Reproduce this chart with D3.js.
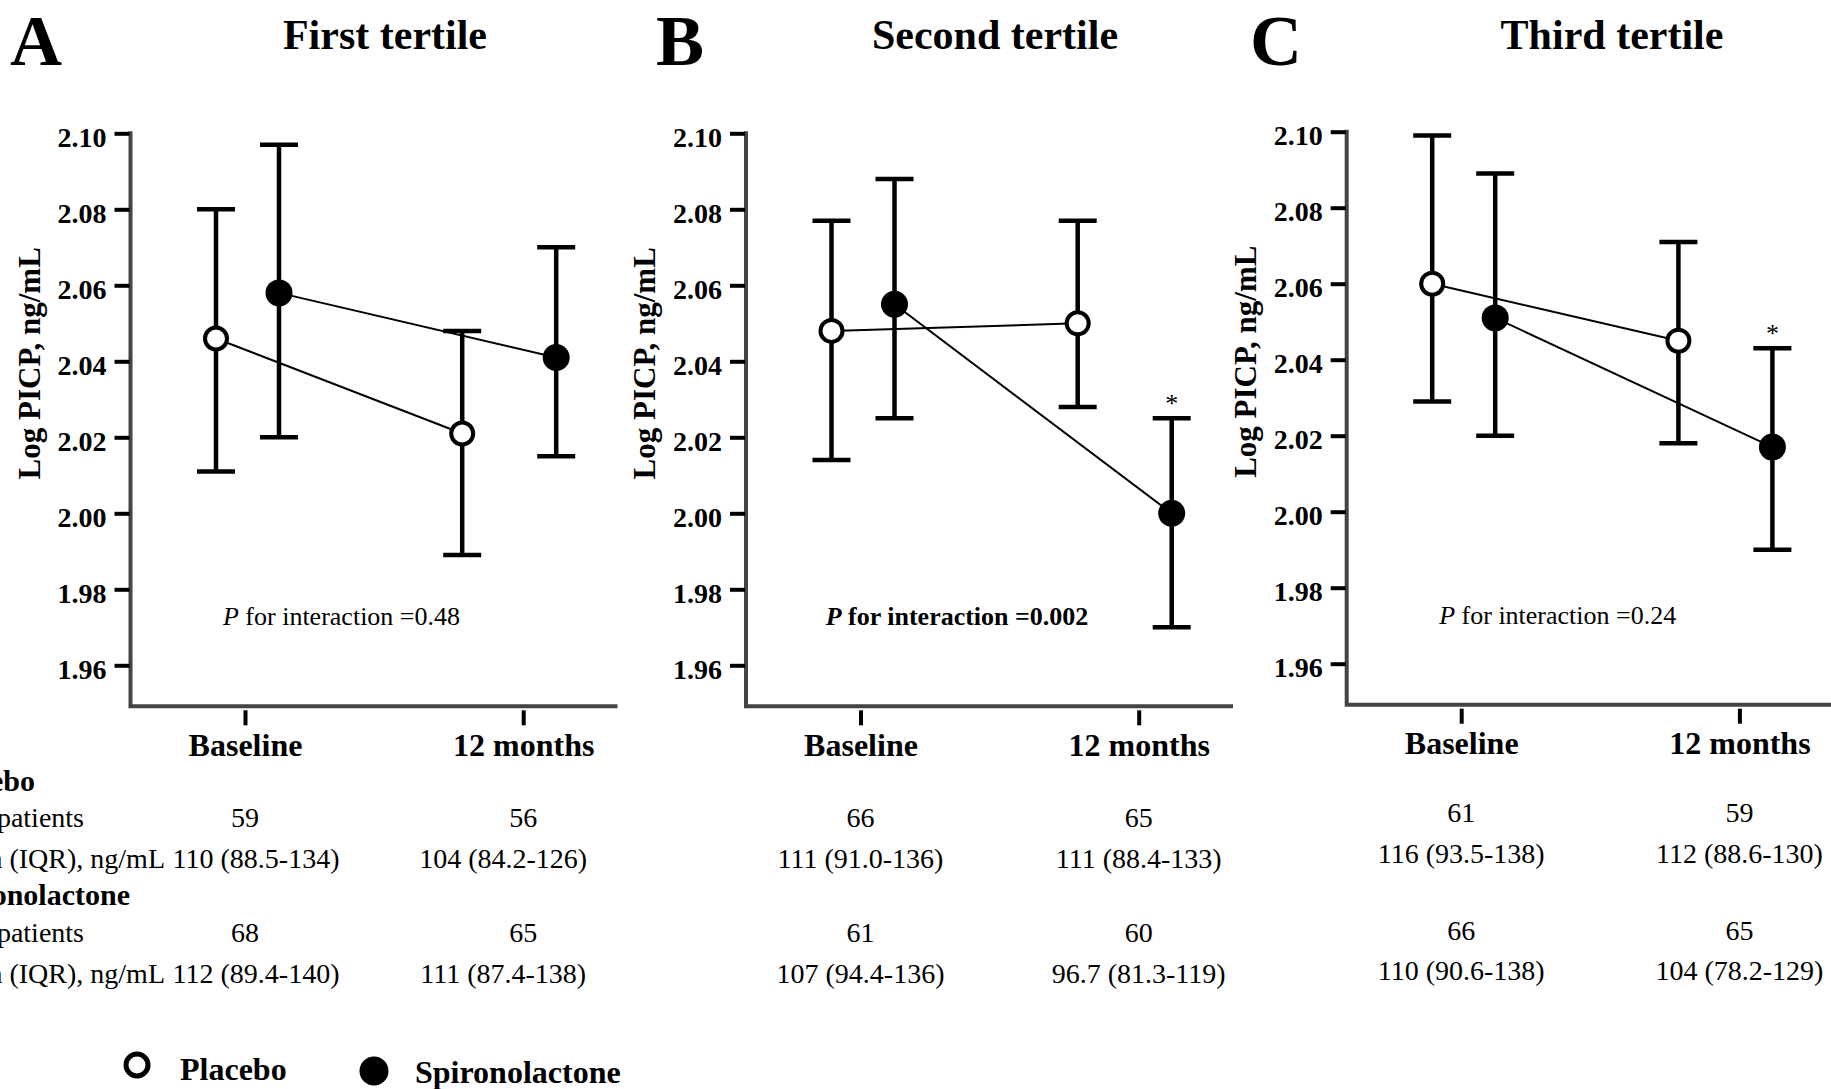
<!DOCTYPE html>
<html>
<head>
<meta charset="utf-8">
<script src="https://cdn.jsdelivr.net/npm/d3@7"></script>
<style>
  body { margin: 0; background: #fff; }
  svg { display: block; font-family: "Liberation Serif", "Times New Roman", serif; }
</style>
</head>
<body>
<script>
const width = 1831,
  height = 1089;

// ---- data ----
const timepoints = ["Baseline", "12 months"];
const letters = ["A", "B", "C"];
const titles = ["First tertile", "Second tertile", "Third tertile"];
const yTicks = [1.96, 1.98, 2.0, 2.02, 2.04, 2.06, 2.08, 2.1];

// log PICP, [baseline, 12 months] for each tertile
const placeboMean = [[2.046, 2.021], [2.048, 2.050], [2.060, 2.045]];
const placeboLow = [[2.011, 1.989], [2.014, 2.028], [2.029, 2.018]];
const placeboHigh = [[2.080, 2.048], [2.077, 2.077], [2.099, 2.071]];
const spiroMean = [[2.058, 2.041], [2.055, 2.000], [2.051, 2.017]];
const spiroLow = [[2.020, 2.015], [2.025, 1.970], [2.020, 1.990]];
const spiroHigh = [[2.097, 2.070], [2.088, 2.025], [2.089, 2.043]];
const spiroStar = [[false, false], [false, true], [false, true]];

const pValues = ["0.48", "0.002", "0.24"];
const pBold = [false, true, false];

const placeboN = [[59, 56], [66, 65], [61, 59]];
const placeboMedian = [
  ["110 (88.5-134)", "104 (84.2-126)"],
  ["111 (91.0-136)", "111 (88.4-133)"],
  ["116 (93.5-138)", "112 (88.6-130)"],
];
const spiroN = [[68, 65], [61, 60], [66, 65]];
const spiroMedian = [
  ["112 (89.4-140)", "111 (87.4-138)"],
  ["107 (94.4-136)", "96.7 (81.3-119)"],
  ["110 (90.6-138)", "104 (78.2-129)"],
];
const groupLabels = ["Placebo", "Spironolactone"];
const rowLabels = ["No. of patients", "Median (IQR), ng/mL"];

// ---- layout ----
const panels = [
  { axisX: 130.5, top: 133.3, letterX: 10, titleX: 385, medShift: [11, -20], rowDy: [0, 0, 0, 0] },
  { axisX: 746, top: 133.3, letterX: 656, titleX: 995, medShift: [0, 0], rowDy: [0, 0, 0, 0] },
  { axisX: 1346.7, top: 131.7, letterX: 1250, titleX: 1612, medShift: [0, 0], rowDy: [-5, -5, -2, -3] },
];
const axisLen = 487;
const pxPerUnit = 3800;
const dodge = { placebo: [-29, -61], spiro: [34, 33] };
const rowY = [826.7, 868, 941.7, 983];

const svg = d3
  .select("body")
  .append("svg")
  .attr("width", width)
  .attr("height", height)
  .attr("viewBox", [0, 0, width, height]);

svg.append("rect").attr("width", width).attr("height", height).attr("fill", "#fff");

panels.forEach((p, i) => {
  const y = d3
    .scaleLinear()
    .domain([1.96, 2.1])
    .range([p.top + 0.14 * pxPerUnit, p.top]);
  const x = d3
    .scalePoint()
    .domain(timepoints)
    .range([p.axisX + 114.5, p.axisX + 392.7]);
  const baseY = y(1.96) + 41;
  const g = svg.append("g");

  // panel letter and title
  g.append("text")
    .attr("x", p.letterX)
    .attr("y", 65)
    .attr("font-size", 72)
    .attr("font-weight", "bold")
    .text(letters[i]);
  g.append("text")
    .attr("x", p.titleX)
    .attr("y", 49)
    .attr("text-anchor", "middle")
    .attr("font-size", 42)
    .attr("font-weight", "bold")
    .text(titles[i]);

  // axis frame (grey L)
  g.append("path")
    .attr("d", `M${p.axisX},${y(2.1) - 2}V${baseY}H${p.axisX + axisLen}`)
    .attr("fill", "none")
    .attr("stroke", "#444")
    .attr("stroke-width", 4);

  const yAxis = g
    .append("g")
    .attr("transform", `translate(${p.axisX - 1},0)`)
    .call(
      d3.axisLeft(y).tickValues(yTicks).tickFormat(d3.format(".2f")).tickSize(15).tickPadding(8)
    );
  yAxis.attr("font-family", null).attr("font-size", 28).attr("font-weight", "bold");
  yAxis.select(".domain").remove();
  yAxis.selectAll(".tick line").attr("stroke", "#000").attr("stroke-width", 4);
  yAxis.selectAll(".tick text").attr("dy", "0.46em");

  const xAxis = g
    .append("g")
    .attr("transform", `translate(0,${baseY + 4})`)
    .call(d3.axisBottom(x).tickSize(15).tickPadding(8));
  xAxis.attr("font-family", null).attr("font-size", 32).attr("font-weight", "bold");
  xAxis.select(".domain").remove();
  xAxis.selectAll(".tick line").attr("stroke", "#000").attr("stroke-width", 4);

  // y axis title
  g.append("text")
    .attr("transform", `translate(${p.axisX - 91},${p.top + 230}) rotate(-90)`)
    .attr("text-anchor", "middle")
    .attr("font-size", 31)
    .attr("font-weight", "bold")
    .text("Log PICP, ng/mL");

  // interaction p value
  const pt = g
    .append("text")
    .attr("x", p.axisX + 211)
    .attr("y", y(1.96) - 40)
    .attr("text-anchor", "middle")
    .attr("font-size", 26)
    .attr("font-weight", pBold[i] ? "bold" : "normal");
  pt.append("tspan").attr("font-style", "italic").text("P");
  pt.append("tspan").text(` for interaction =${pValues[i]}`);

  const series = (mean, low, high, off) =>
    timepoints.map((t, j) => ({
      cx: x(t) + off[j],
      mean: mean[i][j],
      low: low[i][j],
      high: high[i][j],
    }));
  const placebo = series(placeboMean, placeboLow, placeboHigh, dodge.placebo);
  const spiro = series(spiroMean, spiroLow, spiroHigh, dodge.spiro);
  spiro.forEach((d, j) => (d.star = spiroStar[i][j]));

  const line = d3
    .line()
    .x((d) => d.cx)
    .y((d) => y(d.mean));

  [placebo, spiro].forEach((s) => {
    g.append("path")
      .datum(s)
      .attr("d", line)
      .attr("fill", "none")
      .attr("stroke", "#000")
      .attr("stroke-width", 2);
  });

  // error bars
  g.selectAll(".bar")
    .data(placebo.concat(spiro))
    .join("path")
    .attr("class", "bar")
    .attr(
      "d",
      (d) =>
        `M${d.cx},${y(d.low)}V${y(d.high)}M${d.cx - 19},${y(d.high)}H${d.cx + 19}M${d.cx - 19},${y(d.low)}H${d.cx + 19}`
    )
    .attr("fill", "none")
    .attr("stroke", "#000")
    .attr("stroke-width", 4.5);

  g.selectAll(".open")
    .data(placebo)
    .join("circle")
    .attr("class", "open")
    .attr("cx", (d) => d.cx)
    .attr("cy", (d) => y(d.mean))
    .attr("r", 11)
    .attr("fill", "#fff")
    .attr("stroke", "#000")
    .attr("stroke-width", 4);

  g.selectAll(".filled")
    .data(spiro)
    .join("circle")
    .attr("class", "filled")
    .attr("cx", (d) => d.cx)
    .attr("cy", (d) => y(d.mean))
    .attr("r", 13.5)
    .attr("fill", "#000");

  g.selectAll(".star")
    .data(spiro.filter((d) => d.star))
    .join("text")
    .attr("class", "star")
    .attr("x", (d) => d.cx)
    .attr("y", (d) => y(d.high) - 6)
    .attr("text-anchor", "middle")
    .attr("font-size", 26)
    .text("*");

  // table under the axis
  const cells = [];
  timepoints.forEach((t, j) => {
    cells.push({ x: x(t), y: rowY[0] + p.rowDy[0], text: placeboN[i][j] });
    cells.push({ x: x(t) + p.medShift[j], y: rowY[1] + p.rowDy[1], text: placeboMedian[i][j] });
    cells.push({ x: x(t), y: rowY[2] + p.rowDy[2], text: spiroN[i][j] });
    cells.push({ x: x(t) + p.medShift[j], y: rowY[3] + p.rowDy[3], text: spiroMedian[i][j] });
  });
  g.selectAll(".cell")
    .data(cells)
    .join("text")
    .attr("class", "cell")
    .attr("x", (d) => d.x)
    .attr("y", (d) => d.y)
    .attr("text-anchor", "middle")
    .attr("font-size", 28)
    .text((d) => d.text);
});

// row labels, cut off by the left edge as in the figure
const labelRows = [
  { text: groupLabels[0], x: 35, y: 791, bold: true },
  { text: rowLabels[0], x: 84, y: rowY[0], bold: false },
  { text: rowLabels[1], x: 165, y: rowY[1], bold: false },
  { text: groupLabels[1], x: 130, y: 905, bold: true },
  { text: rowLabels[0], x: 84, y: rowY[2], bold: false },
  { text: rowLabels[1], x: 165, y: rowY[3], bold: false },
];
svg
  .selectAll(".rowlabel")
  .data(labelRows)
  .join("text")
  .attr("class", "rowlabel")
  .attr("x", (d) => d.x)
  .attr("y", (d) => d.y)
  .attr("text-anchor", "end")
  .attr("font-size", (d) => (d.bold ? 30 : 28))
  .attr("font-weight", (d) => (d.bold ? "bold" : "normal"))
  .text((d) => d.text);

// legend
const legend = svg.append("g");
legend
  .append("circle")
  .attr("cx", 137)
  .attr("cy", 1065)
  .attr("r", 11)
  .attr("fill", "#fff")
  .attr("stroke", "#000")
  .attr("stroke-width", 5);
legend
  .append("text")
  .attr("x", 180)
  .attr("y", 1080)
  .attr("font-size", 32)
  .attr("font-weight", "bold")
  .text(groupLabels[0]);
legend
  .append("circle")
  .attr("cx", 374)
  .attr("cy", 1071)
  .attr("r", 14.5)
  .attr("fill", "#000");
legend
  .append("text")
  .attr("x", 415)
  .attr("y", 1083)
  .attr("font-size", 32)
  .attr("font-weight", "bold")
  .text(groupLabels[1]);
</script>
</body>
</html>
